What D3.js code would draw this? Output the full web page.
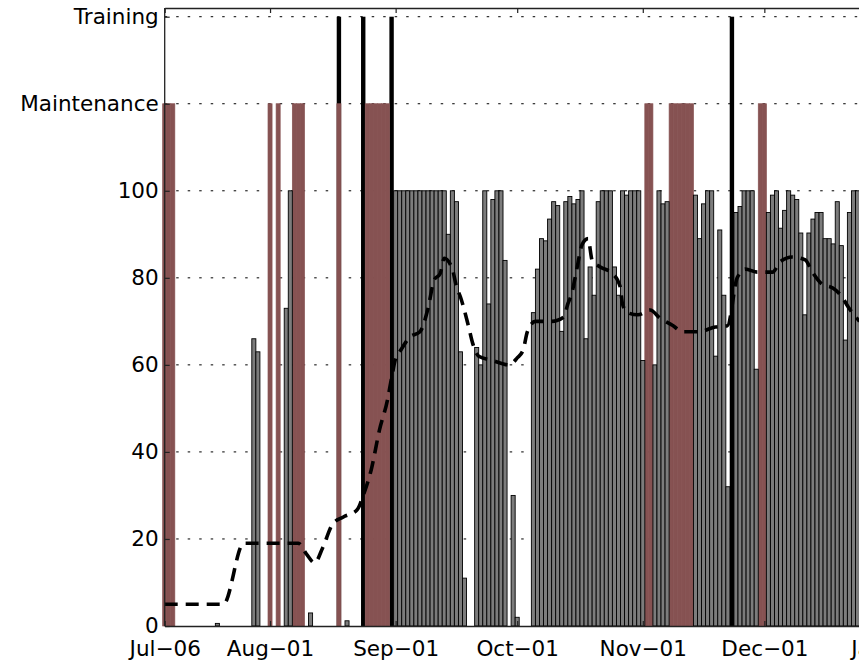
<!DOCTYPE html>
<html>
<head>
<meta charset="utf-8">
<script src="https://cdn.jsdelivr.net/npm/d3@7"></script>
<style>
  body { margin: 0; background: #fff; }
  svg text { font-family: "DejaVu Sans", sans-serif; font-size: 21.5px; fill: #000; }
</style>
</head>
<body>
<div id="root"></div>
<script>
// daily usage (%), index = days after Jul-06, null = no bar
var usage = [
  // 0-9
  null, null, null, null, null, null, null, null, null, null,
  // 10-19
  null, null, null, 0.6, null, null, null, null, null, null,
  // 20-29
  null, null, 66, 63, null, null, null, null, null, null,
  // 30-39
  73, 100, null, null, null, null, 3, null, null, null,
  // 40-49
  null, null, null, null, null, 1.2, null, null, null, null,
  // 50-59
  null, null, null, null, null, null, null, 100, 100, 100,
  // 60-69
  100, 100, 100, 100, 100, 100, 100, 100, 100, 100,
  // 70-79
  90, 100, 97.5, 63, 11, null, null, 64, 60, 100,
  // 80-89
  74, 98, 100, 100, 84, null, 30, 2, null, null,
  // 90-99
  null, 72, 82, 89, 88.5, 93.5, 97.5, 96.6, 67.7, 97.5,
  // 100-109
  98.7, 97, 98, 100, 66, 82.5, 76, 97.5, 100, 100,
  // 110-119
  100, 82.5, 76, 100, 99, 100, 100, 100, 61, null,
  // 120-129
  null, 60, 100, 97, 97.5, null, null, null, null, null,
  // 130-139
  null, 99, 89, 97, 100, 100, 62, 91, 76, 32,
  // 140-149
  null, 95, 96.4, 100, 100, 100, 59, null, null, 95,
  // 150-159
  99, 100, 91.4, 95.5, 100, 99, 98, 90.3, 71.5, 90.3,
  // 160-169
  93.5, 95, 95, 89, 89, 87.8, 97.5, 87.4, 65.7, 95,
  // 170-172
  100, 100, 100
];

var maintenanceDays = [0, 1, 2, 26, 28, 32, 33, 34, 43, 50, 51, 52, 53, 54, 55,
  119, 120, 125, 126, 127, 128, 129, 130, 147, 148];
var trainingDays = [43, 49, 56, 140];

// running average (dashed)
var trendDays = [0, 14.5, 19.5, 33, 35, 37, 39, 41.5, 44, 47.5, 49, 51, 53, 55, 56, 57, 58,
  60.5, 63, 65, 66.5, 68, 69, 71, 72, 73, 75, 76, 77.5, 81, 85, 87, 88.5, 89.5, 91.5,
  95.5, 98.5, 99.5, 100.5, 101.5, 102, 103, 104.5, 105.5, 107.5, 110.5, 112.4, 113,
  114.2, 116.8, 119.8, 122.3, 125.3, 127.9, 131.7, 135.9, 138.9, 141.3, 143.3, 146.3,
  150, 151.9, 154.9, 158.1, 159.8, 162.3, 164.8, 167.2, 168.7, 171.5];
var trendValues = [5, 5, 19, 19, 16.5, 14.5, 18, 23.5, 25, 26.7, 30, 36, 45, 52, 57, 61.5, 63,
  66.4, 67.6, 73, 79.5, 81, 84.5, 82, 78, 75.6, 68.8, 65, 62, 61, 60, 61.6, 63.5, 67.6, 70,
  70, 71, 74, 76.5, 81, 83.4, 87.6, 89, 84, 82.5, 81, 78, 74,
  72, 71.5, 72.6, 70.7, 69.1, 67.6, 67.6, 68.7, 69, 80, 82, 81.3,
  81.3, 83.7, 84.8, 84.1, 81.4, 78.5, 77.7, 75.6, 73.3, 70];

var tickDates = ["2001-07-06", "2001-08-01", "2001-09-01", "2001-10-01", "2001-11-01", "2001-12-01", "2002-01-01"];
var tickLabels = ["Jul\u221206", "Aug\u221201", "Sep\u221201", "Oct\u221201", "Nov\u221201", "Dec\u221201", "Jan\u221201"];
var yTicks = [0, 20, 40, 60, 80, 100, 120, 140];
var yTickLabels = ["0", "20", "40", "60", "80", "100", "Maintenance", "Training"];

var width = 859, height = 661;
var plotLeft = 164.7, plotTop = 8, plotBottom = 626;
var pxPerDay = 4.0516, spanDays = 200;
var DAY = 864e5;
var start = new Date(Date.UTC(2001, 6, 6));
function dayDate(d) { return new Date(start.getTime() + d * DAY); }

var x = d3.scaleUtc()
  .domain([start, dayDate(spanDays)])
  .range([plotLeft, plotLeft + pxPerDay * spanDays]);
var y = d3.scaleLinear().domain([0, 142]).range([plotBottom, plotTop]);
var xEnd = x.range()[1];
var barW = x(dayDate(1)) - x(dayDate(0));

var svg = d3.select("#root").append("svg")
  .attr("width", width)
  .attr("height", height)
  .style("display", "block");

// grid
svg.append("g").selectAll("line")
  .data(yTicks.filter(function (v) { return v > 0; }))
  .enter().append("line")
  .attr("x1", plotLeft).attr("x2", xEnd)
  .attr("y1", function (d) { return y(d); })
  .attr("y2", function (d) { return y(d); })
  .attr("stroke", "#000")
  .attr("stroke-width", 1)
  .attr("stroke-dasharray", "2.5,9");

// training
svg.append("g").selectAll("rect")
  .data(trainingDays)
  .enter().append("rect")
  .attr("x", function (d) { return x(dayDate(d)) - 2.2; })
  .attr("width", 4.4)
  .attr("y", y(140))
  .attr("height", y(0) - y(140))
  .attr("fill", "#000");

// maintenance
svg.append("g").selectAll("rect")
  .data(maintenanceDays)
  .enter().append("rect")
  .attr("x", function (d) { return x(dayDate(d)) - barW / 2; })
  .attr("width", barW)
  .attr("y", y(120))
  .attr("height", y(0) - y(120))
  .attr("fill", "#865252")
  .attr("stroke", "#865252")
  .attr("stroke-width", 0.7);

// usage bars
var bars = usage.map(function (v, i) { return { day: i, value: v }; })
  .filter(function (d) { return d.value !== null; });
svg.append("g").selectAll("rect")
  .data(bars)
  .enter().append("rect")
  .attr("x", function (d) { return x(dayDate(d.day)) - barW / 2; })
  .attr("width", barW)
  .attr("y", function (d) { return y(d.value); })
  .attr("height", function (d) { return y(0) - y(d.value); })
  .attr("fill", "#7c7c7c")
  .attr("stroke", "#000")
  .attr("stroke-width", 0.9);

// dashed trend
var line = d3.line()
  .curve(d3.curveMonotoneX)
  .x(function (d) { return x(dayDate(d)); })
  .y(function (d, i) { return y(trendValues[i]); });
svg.append("path")
  .datum(trendDays)
  .attr("d", line)
  .attr("fill", "none")
  .attr("stroke", "#000")
  .attr("stroke-width", 3.6)
  .attr("stroke-dasharray", "13,8");

// axes
var tickTimes = tickDates.map(function (s) { return new Date(s + "T00:00:00Z"); });
var xAxis = d3.axisBottom(x)
  .tickValues(tickTimes)
  .tickFormat(function (d, i) { return tickLabels[i]; })
  .tickSizeInner(-5).tickSizeOuter(0).tickPadding(15);
var gx = svg.append("g").attr("transform", "translate(0," + plotBottom + ")").call(xAxis);

var xTop = d3.axisTop(x)
  .tickValues(tickTimes)
  .tickFormat("")
  .tickSizeInner(-5).tickSizeOuter(0);
var gt = svg.append("g").attr("transform", "translate(0," + plotTop + ")").call(xTop);

var yAxis = d3.axisLeft(y)
  .tickValues(yTicks)
  .tickFormat(function (d, i) { return yTickLabels[i]; })
  .tickSizeInner(-5).tickSizeOuter(0).tickPadding(6);
var gy = svg.append("g").attr("transform", "translate(" + plotLeft + ",0)").call(yAxis);

[gx, gt, gy].forEach(function (g) {
  g.attr("font-family", null).attr("font-size", null);
  g.selectAll("path.domain").attr("stroke", "#222").attr("stroke-width", 1.3);
  g.selectAll(".tick line").attr("stroke", "#222").attr("stroke-width", 1.2);
});
gy.select("path.domain").attr("d", "M0," + plotTop + "V" + plotBottom);
</script>
</body>
</html>
